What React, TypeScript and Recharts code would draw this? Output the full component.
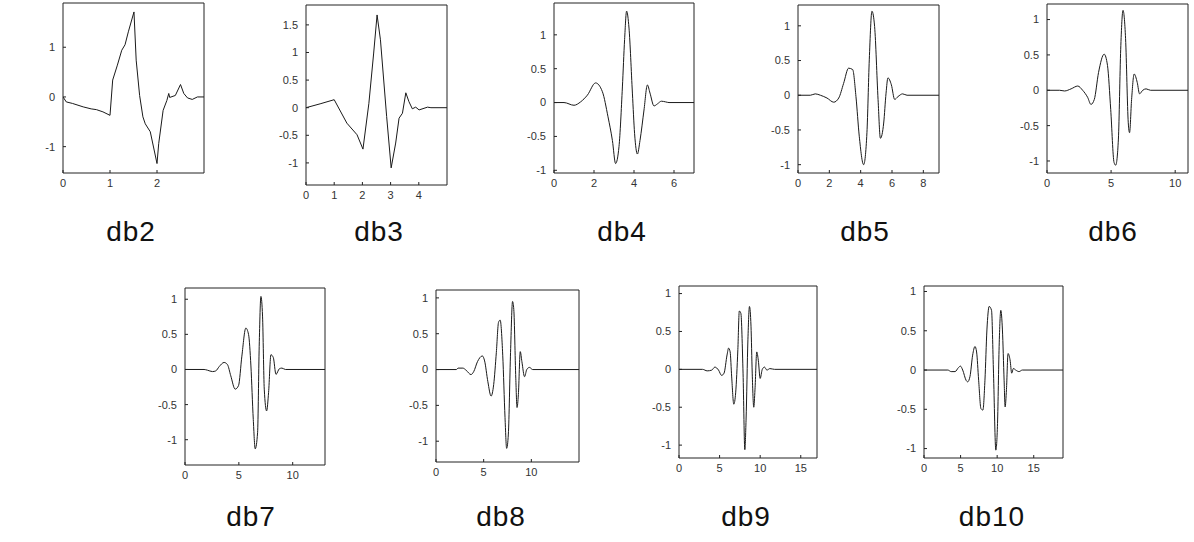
import React from 'react';
import { LineChart, Line, XAxis, YAxis } from 'recharts';

type Pt = [number, number];

// wavelet curves: [t, psi(t)]
const DB2: Pt[] = [
  [0, 0], [0.07, -0.1], [0.2, -0.13], [0.43, -0.2], [0.6, -0.24], [0.71, -0.255], [0.85, -0.3], [1.0, -0.37],
  [1.057, 0.34], [1.157, 0.64], [1.25, 0.94], [1.32, 1.05], [1.39, 1.31], [1.51, 1.71], [1.557, 0.74],
  [1.63, 0.03], [1.7, -0.4], [1.75, -0.54], [1.857, -0.7], [2.0, -1.34], [2.036, -0.94], [2.13, -0.27],
  [2.21, -0.07], [2.25, 0.07], [2.27, -0.01], [2.39, 0.03], [2.5, 0.25], [2.57, 0.07], [2.65, -0.02],
  [2.75, -0.05], [2.86, 0], [3, 0],
];
const DB3: Pt[] = [
  [0, 0], [0.5, 0.07], [1.0, 0.145], [1.45, -0.28], [1.81, -0.49], [2.02, -0.75], [2.23, 0.08], [2.4, 0.99],
  [2.52, 1.68], [2.64, 1.23], [2.86, -0.16], [3.02, -1.09], [3.18, -0.64], [3.3, -0.19], [3.42, -0.1],
  [3.54, 0.27], [3.65, 0.11], [3.77, -0.02], [3.89, 0.01], [4.01, -0.04], [4.31, 0.01], [4.43, 0], [5, 0],
];
const DB4: Pt[] = [
  [0, 0], [0.5, 0], [1.0, -0.04], [1.33, 0.01], [1.67, 0.11], [2.08, 0.29], [2.42, 0.16], [2.7, -0.21],
  [2.92, -0.56], [3.08, -0.9], [3.25, -0.65], [3.42, 0.23], [3.53, 0.93], [3.63, 1.35], [3.75, 1.1],
  [3.92, 0.14], [4.03, -0.46], [4.17, -0.76], [4.3, -0.56], [4.5, -0.11], [4.67, 0.26], [4.8, 0.14],
  [5.0, -0.05], [5.17, -0.02], [5.37, 0.02], [5.58, 0.01], [5.75, 0], [7, 0],
];
const DB5: Pt[] = [
  [0, 0], [0.79, 0], [1.1, 0.02], [1.43, 0], [1.85, -0.04], [2.28, -0.1], [2.6, -0.04], [2.91, 0.17],
  [3.23, 0.39], [3.49, 0.37], [3.7, -0.02], [3.91, -0.59], [4.19, -1.0], [4.4, -0.54], [4.55, 0.51],
  [4.72, 1.21], [4.89, 0.99], [5.11, -0.06], [5.26, -0.62], [5.47, -0.4], [5.62, 0.03], [5.74, 0.25],
  [5.96, 0.15], [6.17, -0.06], [6.38, -0.02], [6.68, 0.02], [6.96, 0], [9, 0],
];
const DB6: Pt[] = [
  [0, 0], [0.98, 0], [1.37, -0.01], [1.88, 0.02], [2.4, 0.06], [2.78, 0], [3.17, -0.1], [3.43, -0.2],
  [3.69, -0.13], [4.02, 0.25], [4.46, 0.51], [4.72, 0.35], [4.97, -0.27], [5.23, -1.02], [5.36, -1.06],
  [5.57, -0.69], [5.75, 0.58], [5.93, 1.13], [6.13, 0.73], [6.34, -0.46], [6.44, -0.6], [6.6, -0.13],
  [6.8, 0.23], [7.04, 0.11], [7.22, -0.05], [7.47, 0], [7.73, 0.02], [8.07, 0], [11, 0],
];
const DB7: Pt[] = [
  [0, 0], [1.77, 0], [2.08, -0.01], [2.55, -0.03], [2.86, -0.02], [3.17, 0.04], [3.63, 0.1], [3.94, 0.07],
  [4.25, -0.09], [4.66, -0.28], [4.97, -0.23], [5.28, 0.19], [5.65, 0.59], [5.9, 0.5], [6.12, 0.05],
  [6.34, -0.71], [6.52, -1.13], [6.74, -0.9], [6.89, 0.33], [7.05, 1.04], [7.2, 0.76], [7.36, -0.28],
  [7.58, -0.59], [7.76, -0.33], [7.98, 0.21], [8.2, 0.17], [8.45, -0.07], [8.76, 0.01], [9.0, 0.02],
  [9.32, 0], [13, 0],
];
const DB8: Pt[] = [
  [0, 0], [2.14, 0], [2.31, 0.02], [2.82, 0.02], [3.16, -0.01], [3.67, -0.07], [3.95, -0.03], [4.35, 0.11],
  [4.86, 0.19], [5.1, 0.12], [5.44, -0.17], [5.78, -0.37], [6.05, -0.21], [6.33, 0.24], [6.56, 0.66],
  [6.73, 0.69], [7.0, 0.2], [7.24, -0.67], [7.41, -1.1], [7.59, -0.9], [7.82, 0.24], [8.03, 0.95],
  [8.16, 0.84], [8.37, -0.12], [8.5, -0.53], [8.64, -0.35], [8.84, 0.25], [9.01, 0.11], [9.29, -0.1],
  [9.52, 0], [9.8, 0.03], [10.14, 0], [15, 0],
];
const DB9: Pt[] = [
  [0, 0], [2.9, 0], [3.47, -0.02], [4.04, -0.01], [4.42, 0.03], [4.87, -0.01], [5.25, -0.08], [5.55, -0.05],
  [5.92, 0.19], [6.11, 0.28], [6.3, 0.23], [6.49, -0.1], [6.75, -0.46], [6.98, -0.31], [7.25, 0.26],
  [7.43, 0.77], [7.62, 0.74], [7.89, -0.05], [8.11, -1.06], [8.26, -0.67], [8.49, 0.39], [8.68, 0.83],
  [8.87, 0.57], [9.02, -0.05], [9.21, -0.5], [9.36, -0.27], [9.58, 0.23], [9.77, 0.12], [10.0, -0.12],
  [10.26, 0], [10.53, 0.03], [10.83, -0.01], [11.2, 0.01], [11.77, 0], [17, 0],
];
const DB10: Pt[] = [
  [0, 0], [3.26, 0], [3.71, -0.02], [4.25, -0.02], [4.7, 0.03], [4.98, 0.05], [5.29, 0], [5.75, -0.13],
  [5.97, -0.15], [6.29, -0.08], [6.65, 0.19], [6.97, 0.3], [7.19, 0.23], [7.47, -0.13], [7.78, -0.49],
  [8.05, -0.51], [8.33, -0.13], [8.6, 0.51], [8.91, 0.81], [9.23, 0.76], [9.5, -0.04], [9.82, -1.02],
  [10.05, -0.68], [10.27, 0.3], [10.5, 0.76], [10.72, 0.51], [10.95, -0.13], [11.09, -0.47], [11.27, -0.25],
  [11.49, 0.21], [11.76, 0.13], [11.99, -0.04], [12.22, 0.02], [12.53, 0], [12.99, -0.02], [13.44, 0], [19, 0],
];

const Y_TICKS_A = [-1, 0, 1];
const Y_TICKS_B = [-1, -0.5, 0, 0.5, 1, 1.5];
const Y_TICKS_C = [-1, -0.5, 0, 0.5, 1];
const X_TICKS_DB2 = [0, 1, 2];
const X_TICKS_DB3 = [0, 1, 2, 3, 4];
const X_TICKS_DB4 = [0, 2, 4, 6];
const X_TICKS_DB5 = [0, 2, 4, 6, 8];
const X_TICKS_5 = [0, 5, 10];
const X_TICKS_15 = [0, 5, 10, 15];

const TICK_FONT = "'Liberation Sans Narrow', 'Arial Narrow', 'Liberation Sans', Arial, sans-serif";
const LABEL_FONT = "'Liberation Sans', Arial, sans-serif";

interface PanelDef {
  name: string;
  data: Pt[];
  xMax: number;
  xTicks: number[];
  yDomain: [number, number];
  yTicks: number[];
  box: [number, number, number, number];
  labelX: number;
  labelBase: number;
  smooth: boolean;
}

const PANELS: PanelDef[] = [
  { name: 'db2', data: DB2, xMax: 3, xTicks: X_TICKS_DB2, yDomain: [-1.53, 1.89], yTicks: Y_TICKS_A, box: [63, 3, 141, 170], labelX: 131, labelBase: 242, smooth: false },
  { name: 'db3', data: DB3, xMax: 5, xTicks: X_TICKS_DB3, yDomain: [-1.4, 1.86], yTicks: Y_TICKS_B, box: [306, 5, 141, 180], labelX: 379, labelBase: 242, smooth: false },
  { name: 'db4', data: DB4, xMax: 7, xTicks: X_TICKS_DB4, yDomain: [-1.04, 1.47], yTicks: Y_TICKS_C, box: [554, 3, 140, 170], labelX: 622, labelBase: 242, smooth: true },
  { name: 'db5', data: DB5, xMax: 9, xTicks: X_TICKS_DB5, yDomain: [-1.12, 1.3], yTicks: Y_TICKS_C, box: [798, 5, 141, 168], labelX: 865, labelBase: 242, smooth: true },
  { name: 'db6', data: DB6, xMax: 11, xTicks: X_TICKS_5, yDomain: [-1.17, 1.22], yTicks: Y_TICKS_C, box: [1047, 4, 141, 169], labelX: 1113, labelBase: 242, smooth: true },
  { name: 'db7', data: DB7, xMax: 13, xTicks: X_TICKS_5, yDomain: [-1.36, 1.16], yTicks: Y_TICKS_C, box: [185, 288, 140, 177], labelX: 251, labelBase: 527, smooth: true },
  { name: 'db8', data: DB8, xMax: 15, xTicks: X_TICKS_5, yDomain: [-1.29, 1.11], yTicks: Y_TICKS_C, box: [436, 290, 143, 172], labelX: 501, labelBase: 527, smooth: true },
  { name: 'db9', data: DB9, xMax: 17, xTicks: X_TICKS_15, yDomain: [-1.17, 1.1], yTicks: Y_TICKS_C, box: [679, 286, 138, 172], labelX: 746, labelBase: 527, smooth: true },
  { name: 'db10', data: DB10, xMax: 19, xTicks: X_TICKS_15, yDomain: [-1.12, 1.07], yTicks: Y_TICKS_C, box: [924, 286, 139, 172], labelX: 992, labelBase: 527, smooth: true },
];

const LEFT = 40;
const BOTTOM = 22;
const AXIS = '#222';

const Panel: React.FC<{ p: PanelDef }> = ({ p }) => {
  const [bx, by, bw, bh] = p.box;
  const rows = p.data.map(([x, y]) => ({ x, y }));
  const tickStyle = { fill: '#333', fontSize: 11, fontFamily: TICK_FONT };

  return (
    <>
      <div style={{ position: 'absolute', left: bx - LEFT, top: by - 1 }}>
        <LineChart
          width={bw + LEFT + 1}
          height={bh + 1 + BOTTOM}
          data={rows}
          margin={{ top: 0, right: 0, bottom: 0, left: 0 }}
        >
          <XAxis dataKey="x" type="number" domain={[0, p.xMax]} ticks={p.xTicks} interval={0}
            allowDataOverflow height={BOTTOM} tickSize={-3} tickMargin={9} stroke={AXIS} tick={tickStyle} />
          <XAxis xAxisId="top" orientation="top" dataKey="x" type="number" domain={[0, p.xMax]}
            ticks={p.xTicks} interval={0} allowDataOverflow height={1} tick={false} tickSize={-3} stroke={AXIS} />
          <YAxis type="number" domain={p.yDomain} ticks={p.yTicks} interval={0} allowDataOverflow
            width={LEFT} tickSize={-3} tickMargin={11} stroke={AXIS} tick={tickStyle} />
          <YAxis yAxisId="right" orientation="right" type="number" domain={p.yDomain} ticks={p.yTicks}
            interval={0} allowDataOverflow width={1} tick={false} tickSize={-3} stroke={AXIS} />
          <Line dataKey="y" type={p.smooth ? 'monotoneX' : 'linear'} stroke="#1a1a1a" strokeWidth={1}
            dot={false} activeDot={false} isAnimationActive={false} />
        </LineChart>
      </div>
      <div
        style={{
          position: 'absolute',
          left: p.labelX - 60,
          width: 120,
          top: p.labelBase - 24,
          textAlign: 'center',
          fontFamily: LABEL_FONT,
          fontSize: 28,
          lineHeight: '28px',
          letterSpacing: 1,
          color: '#111',
        }}
      >
        {p.name}
      </div>
    </>
  );
};

export default function App() {
  return (
    <div style={{ position: 'absolute', left: 0, top: 0, width: 1194, height: 542, background: '#fff', overflow: 'hidden' }}>
      {PANELS.map((p) => (
        <Panel key={p.name} p={p} />
      ))}
    </div>
  );
}
